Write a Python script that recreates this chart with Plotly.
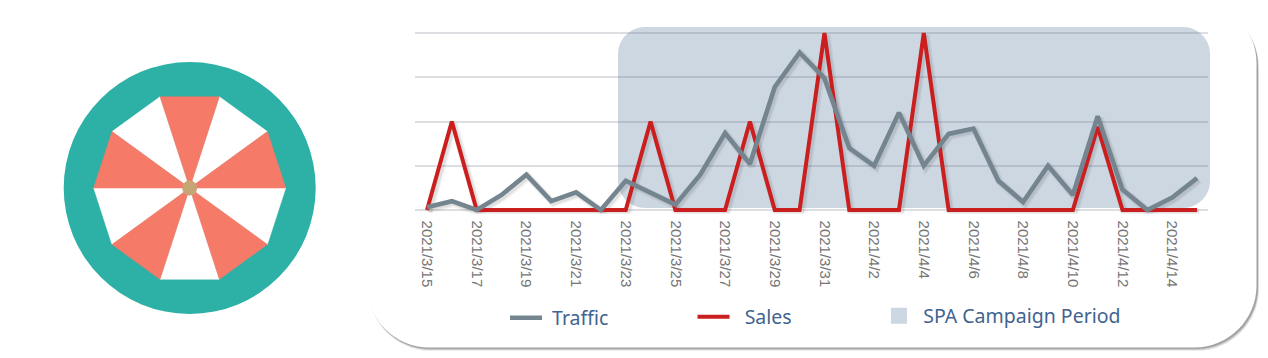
import plotly.graph_objects as go

W, H = 1268, 358

# ---- line chart data ----
dates = ["2021/3/15", "2021/3/16", "2021/3/17", "2021/3/18", "2021/3/19", "2021/3/20", "2021/3/21", "2021/3/22",
         "2021/3/23", "2021/3/24", "2021/3/25", "2021/3/26", "2021/3/27", "2021/3/28", "2021/3/29", "2021/3/30",
         "2021/3/31", "2021/4/1", "2021/4/2", "2021/4/3", "2021/4/4", "2021/4/5", "2021/4/6", "2021/4/7",
         "2021/4/8", "2021/4/9", "2021/4/10", "2021/4/11", "2021/4/12", "2021/4/13", "2021/4/14", "2021/4/15"]
traffic = [1.5, 5, 0, 8.5, 20, 5, 10, 0, 16.5, 10, 3, 20, 43.5, 26, 69.5, 89,
           74.5, 35, 25, 55, 25, 43, 46, 16.5, 4.5, 25, 8.5, 53, 11.5, 0, 7, 18]
sales = [0, 50, 0, 0, 0, 0, 0, 0, 0, 50, 0, 0, 0, 50, 0, 0,
         100, 0, 0, 0, 100, 0, 0, 0, 0, 0, 0, 47, 0, 0, 0, 0]
grid_values = [0, 25, 50, 75, 100]

# ---- icon data (angles in degrees, radii in px-like units) ----
coral_wedges = [0, 72, 144, 216, 288]
white_wedges = [36, 108, 180, 252, 324]
wedge_span = 36
ring_radius = 126
canopy_radius = 96

TEAL, CORAL, HUB = "#2db0a5", "#f67a68", "#c6a674"
GREY, RED, SHADE, LABEL, TICK = "#74858f", "#cb1f1f", "#cdd7e2", "#41638f", "#757575"


def fx(px):
    return px / W


def fy(py):
    return 1 - py / H


def rrect(x0, y0, x1, y1, r):
    k = r * 0.45
    pts = [
        ("M", x0 + r, y0), ("L", x1 - r, y0),
        ("C", x1 - k, y0, x1, y0 + k, x1, y0 + r), ("L", x1, y1 - r),
        ("C", x1, y1 - k, x1 - k, y1, x1 - r, y1), ("L", x0 + r, y1),
        ("C", x0 + k, y1, x0, y1 - k, x0, y1 - r), ("L", x0, y0 + r),
        ("C", x0, y0 + k, x0 + k, y0, x0 + r, y0),
    ]
    out = []
    for p in pts:
        vals = p[1:]
        coords = " ".join(f"{fx(vals[i]):.6f},{fy(vals[i + 1]):.6f}" for i in range(0, len(vals), 2))
        out.append(f"{p[0]} {coords}")
    return " ".join(out) + " Z"


def panel(path, fill):
    return dict(type="path", xref="paper", yref="paper", path=path, fillcolor=fill,
                line=dict(width=0), layer="below")


def legend_at(px, py):
    return dict(x=fx(px), y=fy(py), xanchor="left", yanchor="middle", itemwidth=32,
                bgcolor="rgba(0,0,0,0)",
                font=dict(family="Noto Sans", size=19.5, color=LABEL))


fig = go.Figure()

# Soft offset shadows live on the base axes, the visible lines on the overlaying pair.
for vals in (sales, traffic):
    fig.add_trace(go.Scatter(x=dates, y=vals, mode="lines", showlegend=False, hoverinfo="skip",
                             line=dict(color="rgba(70,70,70,0.07)", width=8), cliponaxis=False,
                             xaxis="x", yaxis="y"))
    fig.add_trace(go.Scatter(x=dates, y=vals, mode="lines", showlegend=False, hoverinfo="skip",
                             line=dict(color="rgba(70,70,70,0.10)", width=5), cliponaxis=False,
                             xaxis="x", yaxis="y"))

fig.add_trace(go.Scatter(x=dates, y=sales, mode="lines", name="\u00a0\u00a0Sales", legend="legend2",
                         line=dict(color=RED, width=4), cliponaxis=False, xaxis="x2", yaxis="y2"))
fig.add_trace(go.Scatter(x=dates, y=traffic, mode="lines", name="\u00a0Traffic", legend="legend",
                         line=dict(color=GREY, width=4.6), cliponaxis=False, xaxis="x2", yaxis="y2"))
fig.add_trace(go.Scatter(x=dates[:1], y=[None], mode="markers", name="\u2009SPA Campaign Period", legend="legend3",
                         marker=dict(symbol="square", size=16, color=SHADE), xaxis="x2", yaxis="y2"))

# Icon: decagonal canopy on a teal disc
for starts, col in ((white_wedges, "#ffffff"), (coral_wedges, CORAL)):
    for a in starts:
        fig.add_trace(go.Scatterpolar(r=[0, canopy_radius, canopy_radius, 0],
                                      theta=[a, a, a + wedge_span, a],
                                      mode="lines", fill="toself", fillcolor=col,
                                      line=dict(width=0.5, color=col), showlegend=False,
                                      hoverinfo="skip", subplot="polar"))
fig.add_trace(go.Scatterpolar(r=[0], theta=[0], mode="markers", marker=dict(size=15, color=HUB),
                              showlegend=False, hoverinfo="skip", subplot="polar"))

px_per_day = 24.84
x_lo, x_hi = (415 - 427) / px_per_day, (1208 - 427) / px_per_day
px_per_unit = 1.77
dx, dy = 2 / px_per_day, 2 / px_per_unit
pad = 2  # value units kept beyond 0 and 100 so both end gridlines draw
dom_x = [fx(415), fx(1208)]
dom_y = [fy(210 + pad * px_per_unit), fy(33 - pad * px_per_unit)]

fig.update_layout(
    width=W, height=H, margin=dict(l=0, r=0, t=0, b=0, pad=0),
    paper_bgcolor="#ffffff", plot_bgcolor="rgba(0,0,0,0)",
    font=dict(family="Liberation Sans"),
    xaxis=dict(type="category", domain=dom_x, range=[x_lo - dx, x_hi - dx], visible=False,
               categoryorder="array", categoryarray=dates),
    yaxis=dict(domain=dom_y, range=[-pad + dy, 100 + pad + dy], visible=False),
    xaxis2=dict(type="category", overlaying="x", range=[x_lo, x_hi], categoryorder="array", categoryarray=dates,
                dtick=2, tick0=0, tickangle=90, showgrid=False, ticks="", showline=False, zeroline=False,
                ticklabelstandoff=6,
                tickfont=dict(family="Liberation Sans", size=15, color=TICK)),
    yaxis2=dict(overlaying="y", range=[-pad, 100 + pad], tickvals=grid_values, showticklabels=False, ticks="",
                showgrid=True, gridcolor="rgba(95,105,120,0.22)", gridwidth=1.5, zeroline=False, showline=False),
    polar=dict(domain=dict(x=[fx(63.7), fx(315.7)], y=[fy(314), fy(62)]),
               bgcolor=TEAL,
               radialaxis=dict(visible=False, range=[0, ring_radius]),
               angularaxis=dict(visible=False, rotation=0, direction="counterclockwise")),
    legend=legend_at(505, 318),
    legend2=legend_at(692.5, 317),
    legend3=legend_at(878, 316),
    shapes=[
        panel(rrect(369, 6, 1259, 351, 62), "rgba(60,60,60,0.10)"),
        panel(rrect(368.5, 5, 1258.5, 350, 62), "rgba(60,60,60,0.18)"),
        panel(rrect(368, 4, 1258, 349, 62), "rgba(60,60,60,0.28)"),
        panel(rrect(367, 1, 1256.5, 347.5, 62), "#ffffff"),
        panel(rrect(618, 27, 1210, 208, 27), SHADE),
    ],
)

fig.write_html("out.html", config={"displayModeBar": False},
               post_script="document.body.style.margin='0';document.body.style.overflow='hidden';")
